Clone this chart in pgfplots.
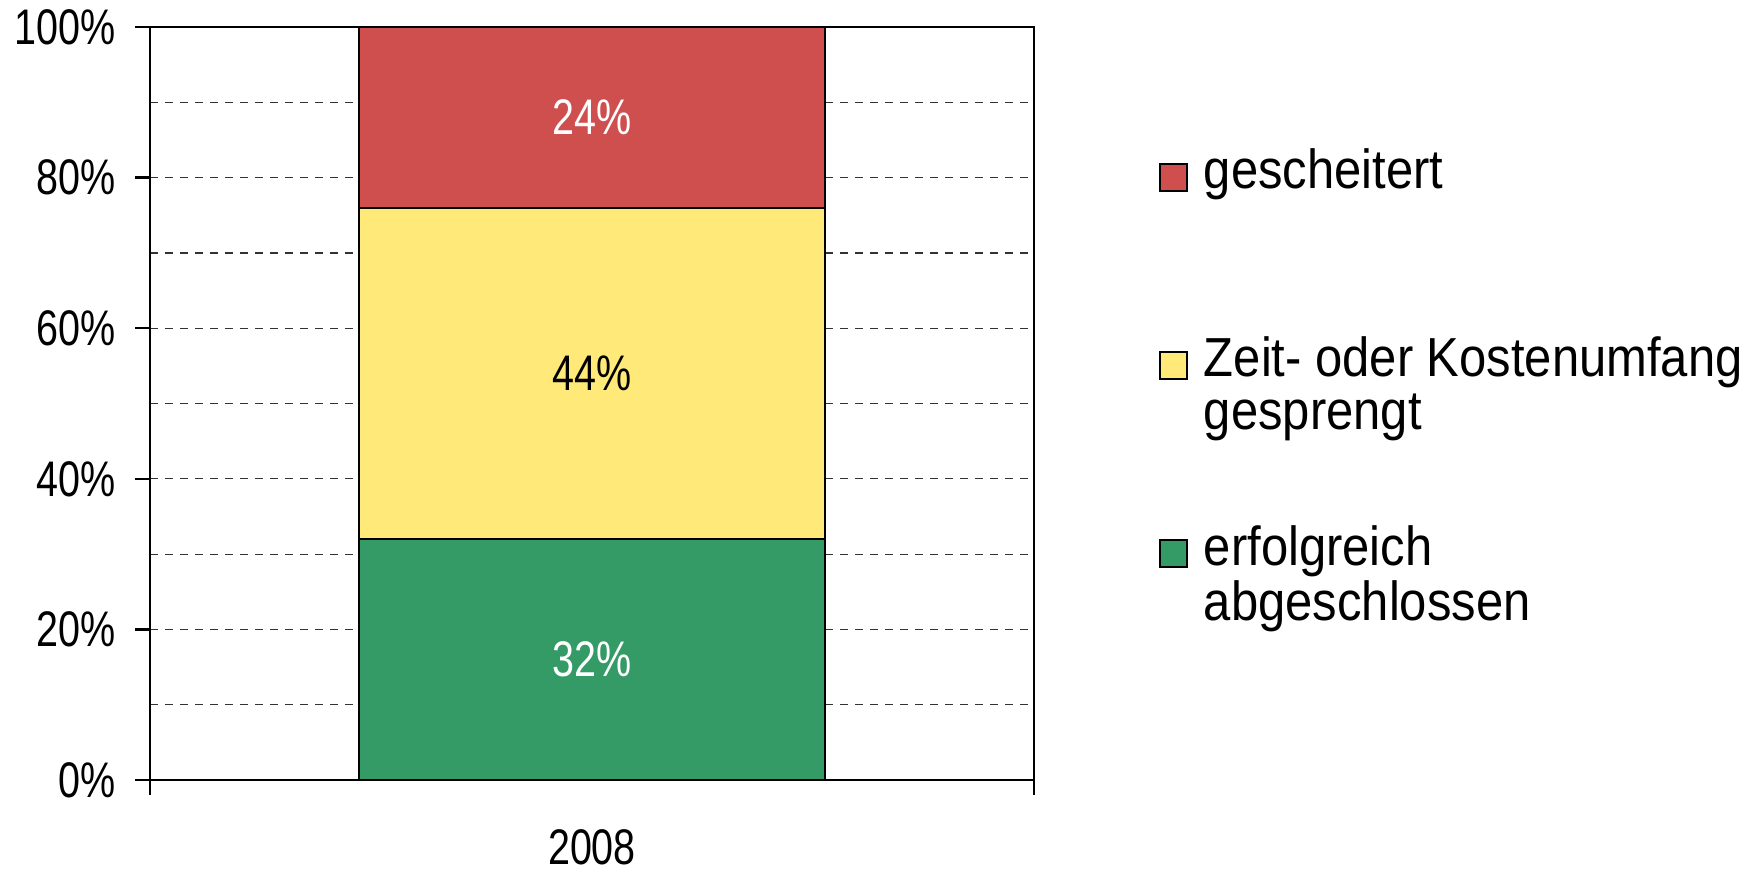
\documentclass[border=0pt]{standalone}
\usepackage{fontspec}
\setmainfont{Liberation Sans}
\newfontfamily\tickfont[FakeStretch=0.79]{Liberation Sans}
\newfontfamily\legfont[FakeStretch=0.89]{Liberation Sans}
\usepackage{pgfplots}
\pgfplotsset{compat=1.18}
\definecolor{cred}{RGB}{207,78,78}
\definecolor{cyel}{RGB}{255,233,120}
\definecolor{cgrn}{RGB}{52,155,102}
\begin{document}
\begin{tikzpicture}
\useasboundingbox (0,0) rectangle (440pt,217.5pt);
\begin{axis}[
  at={(37.5pt,22.5pt)}, anchor=south west,
  scale only axis, width=221pt, height=188.25pt,
  ybar stacked, bar width=116.5pt,
  xmin=-0.5, xmax=0.5, ymin=0, ymax=100,
  axis line style={line width=0.6pt},
  xtick={-0.5,0.5}, xticklabels={},
  extra x ticks={0}, extra x tick labels={2008},
  extra x tick style={major tick length=0pt, grid=none, xticklabel style={yshift=-8.8pt}},
  ytick={0,20,...,100}, yticklabels={0\%,20\%,40\%,60\%,80\%,100\%},
  yticklabel style={xshift=-1.4pt},
  minor y tick num=1, minor tick length=0pt,
  ymajorgrids, yminorgrids,
  major grid style={dash pattern=on 2pt off 1.75pt, black!80, line width=0.3pt},
  minor grid style={dash pattern=on 2pt off 1.75pt, black!80, line width=0.3pt},
  tick align=outside, major tick length=3.75pt, tick pos=left,
  major tick style={line width=0.6pt, black},
  ticklabel style={font=\tickfont\fontsize{12.5pt}{14pt}\selectfont},
  point meta=explicit,
  nodes near coords={\pgfmathprintnumber[assume math mode=true]{\pgfplotspointmeta}\%},
  every node near coord/.append style={anchor=center, font=\tickfont\fontsize{12.5pt}{14pt}\selectfont},
  reverse legend,
  legend style={at={(rel axis cs:1.1414,0.8382)}, anchor=north west, draw=none, fill=none, inner sep=0pt, outer sep=0pt,
    row sep=35.6pt,
    cells={anchor=base west},
    nodes={inner xsep=4pt, inner ysep=0pt, font=\legfont\fontsize{13.75pt}{13.25pt}\selectfont}},
]
\addplot[fill=cgrn, draw=black, line width=0.4pt, every node near coord/.append style={text=white},
  legend image code/.code={\draw[fill=cgrn, draw=black, line width=0.5pt] (0pt,-0.5pt) rectangle (6.75pt,6.25pt);}]
  coordinates {(0,32) [32]};
\addlegendentry{\begin{tabular}[t]{@{}l@{}}erfolgreich\\abgeschlossen\end{tabular}}
\addplot[fill=cyel, draw=black, line width=0.4pt, every node near coord/.append style={text=black},
  legend image code/.code={\draw[fill=cyel, draw=black, line width=0.5pt] (0pt,-0.5pt) rectangle (6.75pt,6.25pt);}]
  coordinates {(0,44) [44]};
\addlegendentry{\begin{tabular}[t]{@{}l@{}}Zeit- oder Kostenumfang\\gesprengt\end{tabular}}
\addplot[fill=cred, draw=black, line width=0.4pt, every node near coord/.append style={text=white},
  legend image code/.code={\draw[fill=cred, draw=black, line width=0.5pt] (0pt,-0.5pt) rectangle (6.75pt,6.25pt);}]
  coordinates {(0,24) [24]};
\addlegendentry{\begin{tabular}[t]{@{}l@{}}gescheitert\end{tabular}}
\end{axis}
\end{tikzpicture}
\end{document}
